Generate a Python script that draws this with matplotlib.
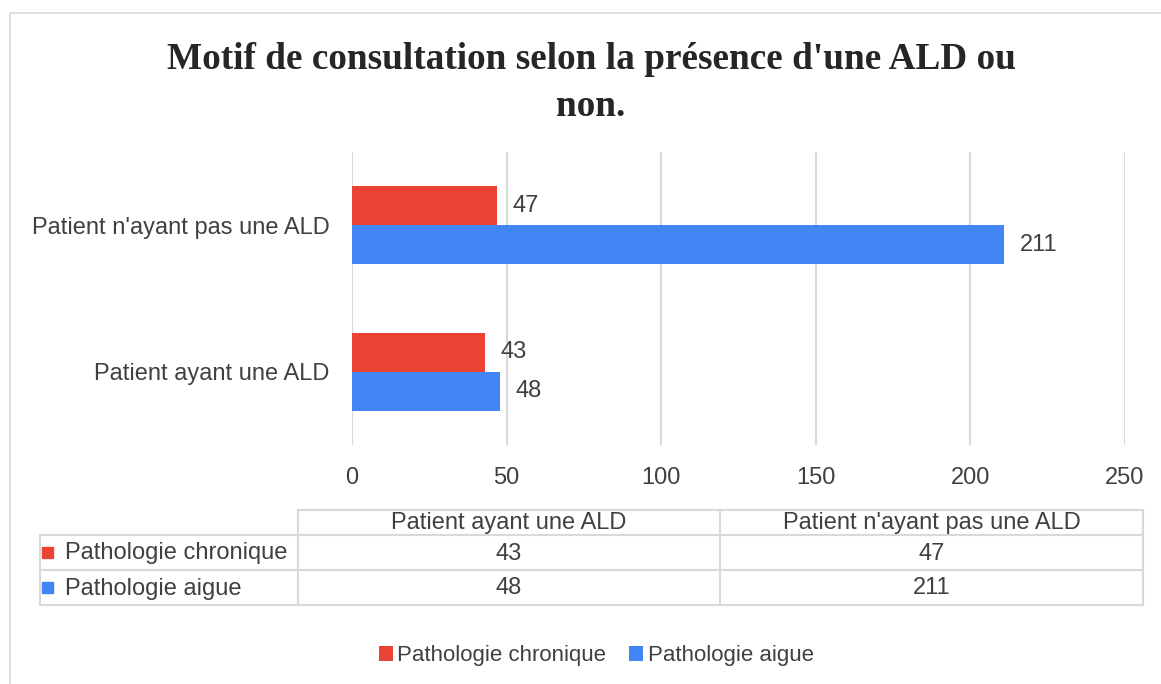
import matplotlib.pyplot as plt
from matplotlib.patches import Rectangle
import numpy as np

categories = ["Patient ayant une ALD", "Patient n'ayant pas une ALD"]
series = ["Pathologie chronique", "Pathologie aigue"]
chronique = [43, 47]
aigue = [48, 211]
xticks = [0, 50, 100, 150, 200, 250]

RED = "#EA4335"
BLUE = "#4285F4"
TXT = "#404040"
GRID = "#d9d9d9"
W, H = 1161, 684

plt.rcParams['font.family'] = ['Liberation Sans', 'DejaVu Sans']

fig = plt.figure(figsize=(W / 100, H / 100), dpi=100)

# overlay in pixel coords for border, table and squares
ov = fig.add_axes([0, 0, 1, 1], zorder=0)
ov.set_xlim(0, W)
ov.set_ylim(H, 0)
ov.axis("off")
ov.add_patch(Rectangle((10, 13), W + 20, H + 20, fill=False, ec=GRID, lw=1.2))

ax = fig.add_axes([352 / W, 1 - 445 / H, 773 / W, 293 / H], zorder=1)
ax.patch.set_alpha(0)
y = np.arange(len(categories))
h = 0.267
b1 = ax.barh(y + h / 2, chronique, height=h, color=RED, label=series[0])
b2 = ax.barh(y - h / 2, aigue, height=h, color=BLUE, label=series[1])
ax.bar_label(b1, padding=11, fontsize=17, color=TXT)
ax.bar_label(b2, padding=11, fontsize=17, color=TXT)
ax.set_ylim(-0.5, 1.5)
ax.set_xlim(0, 250)
ax.set_xticks(xticks)
ax.set_yticks(y)
ax.set_yticklabels(categories)
ax.tick_params(axis="both", length=0, labelsize=17, labelcolor=TXT)
ax.tick_params(axis="x", pad=16)
ax.tick_params(axis="y", pad=16)
ax.grid(axis="x", color=GRID, lw=1.5)
ax.set_axisbelow(True)
for s in ax.spines.values():
    s.set_visible(False)

fig.text(591 / W, 1 - 83 / H, "Motif de consultation selon la présence d'une ALD ou\nnon.",
         ha="center", va="center", fontsize=26.8, fontweight="bold",
         family="Liberation Serif", color="#262626", linespacing=1.45)

# data table below the chart, drawn in pixel coordinates
col_x = [40, 298, 720, 1143]
row_y = [510, 535, 570, 605]
lk = dict(color=GRID, lw=1.5)
ov.plot([col_x[1], col_x[3]], [row_y[0]] * 2, **lk)
for yy in row_y[1:]:
    ov.plot([col_x[0], col_x[3]], [yy] * 2, **lk)
ov.plot([col_x[0]] * 2, [row_y[1], row_y[3]], **lk)
for xx in col_x[1:]:
    ov.plot([xx] * 2, [row_y[0], row_y[3]], **lk)

for j, cat in enumerate(categories):
    ov.text((col_x[j + 1] + col_x[j + 2]) / 2, (row_y[0] + row_y[1]) / 2 + 1, cat,
            ha="center", va="center", fontsize=17, color=TXT)

for i, (name, vals, col) in enumerate(zip(series, [chronique, aigue], [RED, BLUE])):
    yc = (row_y[i + 1] + row_y[i + 2]) / 2
    ov.add_patch(Rectangle((col_x[0] + 2, yc - 6), 11, 11, color=col))
    ov.text(col_x[0] + 25, yc + 1, name, ha="left", va="center", fontsize=17, color=TXT)
    for j, v in enumerate(vals):
        ov.text((col_x[j + 1] + col_x[j + 2]) / 2, yc + 1, str(v),
                ha="center", va="center", fontsize=17, color=TXT)

fig.legend(handles=[b1, b2], labels=series, loc="center", bbox_to_anchor=(596 / W, 1 - 656 / H),
           ncol=2, frameon=False, fontsize=16, handlelength=0.65, handleheight=0.65,
           handletextpad=0.2, columnspacing=1.0, labelcolor=TXT)

fig.savefig("out.png", dpi=100)
